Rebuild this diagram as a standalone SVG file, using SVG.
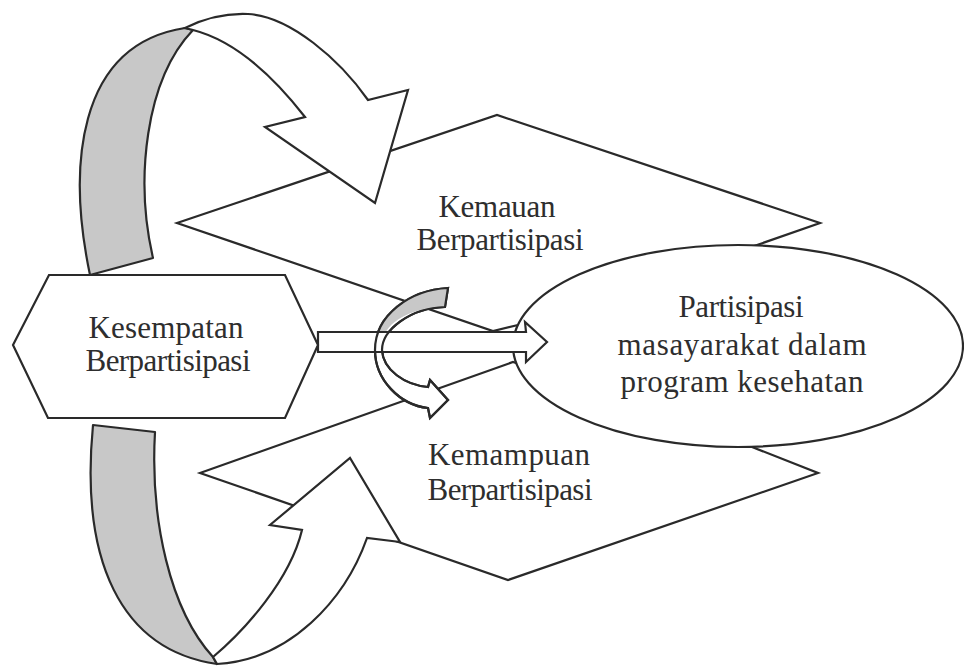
<svg xmlns="http://www.w3.org/2000/svg" xmlns:xlink="http://www.w3.org/1999/xlink" width="964" height="668" viewBox="0 0 964 668">
<style>
  .shape { fill: #ffffff; stroke: #2a2a2a; stroke-width: 2.2; stroke-linejoin: miter; }
  .band { fill: #c8c8c8; stroke: #2a2a2a; stroke-width: 2.2; stroke-linejoin: round; }
  .ribbon { fill: #ffffff; stroke: #2a2a2a; stroke-width: 2.2; stroke-linejoin: miter; }
  .outline { fill: none; stroke: #2a2a2a; stroke-width: 2.2; }
  .lbl { font-family: "Liberation Serif", "Times New Roman", serif; font-size: 31px; fill: #2e2e2e; text-anchor: middle; }
</style>
<defs>
  <path id="cArrow" d="M 448 288 C 410 290 375 315 375 350 C 375 380 400 405 428 408 L 430 418 L 448 400 L 430 380 L 428 387 C 405 385 383 370 382 350 C 382 330 410 308 445 307 Z"/>
</defs>
<rect x="0" y="0" width="964" height="668" fill="#ffffff"/>

<g id="node-kemauan">
  <polygon class="shape" points="177,223 497,115 820,223 757,245 518,325 493,331"/>
  <text class="lbl" x="497" y="217" textLength="117">Kemauan</text>
  <text class="lbl" x="500" y="250" textLength="167">Berpartisipasi</text>
</g>

<g id="node-kemampuan">
  <polygon class="shape" points="200,473 513,362 530,368 752,447 818,473 508,580"/>
  <text class="lbl" x="509" y="465" textLength="162">Kemampuan</text>
  <text class="lbl" x="510" y="500" textLength="165">Berpartisipasi</text>
</g>

<g id="node-partisipasi">
  <ellipse class="shape" cx="738" cy="346" rx="225" ry="101"/>
  <text class="lbl" x="741" y="317" textLength="125">Partisipasi</text>
  <text class="lbl" x="742" y="355" textLength="249">masayarakat dalam</text>
  <text class="lbl" x="742" y="392" textLength="243">program kesehatan</text>
</g>

<g id="connectors">
  <!-- upper curved arrow -->
  <path class="band" d="M 90 275 C 68 170 75 45 185 28 L 193 30 C 145 80 135 180 153 258 Z"/>
  <path class="ribbon" d="M 185 28 C 205 18 225 13 248 14 C 290 16 340 60 368 100 L 408 90 L 375 203 L 265 127 L 305 117 C 270 72 232 40 193 30 Z"/>
  <!-- lower curved arrow -->
  <path class="band" d="M 93 425 L 155 432 C 150 520 170 610 213 657 L 217 664 C 120 650 80 560 93 425 Z"/>
  <path class="ribbon" d="M 213 657 C 245 630 290 580 302 530 L 270 525 L 350 458 L 400 542 L 367 538 C 345 600 290 660 217 664 Z"/>
  <!-- small C-shaped arrow -->
  <use xlink:href="#cArrow" class="ribbon"/>
  <path d="M 377 340 C 380 310 410 291 448 288 L 445 307 C 415 308 390 318 383 338 Z" fill="#c8c8c8" stroke="none"/>
  <!-- central straight arrow -->
  <path class="ribbon" stroke-width="2.6" d="M 318 332 L 526 332 L 525 322 L 547 342 L 526 362 L 526 352 L 318 352 Z"/>
  <use xlink:href="#cArrow" class="outline"/>
</g>

<g id="node-kesempatan">
  <polygon class="shape" points="49,275 285,275 318,345 285,418 48,418 13,345"/>
  <text class="lbl" x="166" y="338" textLength="155">Kesempatan</text>
  <text class="lbl" x="168" y="371" textLength="165">Berpartisipasi</text>
</g>
</svg>
